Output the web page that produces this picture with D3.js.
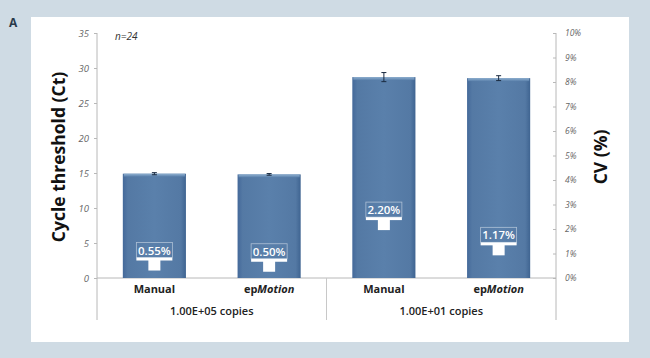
<!DOCTYPE html>
<html><head><meta charset="utf-8">
<script src="https://cdn.jsdelivr.net/npm/d3@7"></script>
<style>body{margin:0;background:#cfdbe4;}svg{display:block;}</style>
</head><body>
<script>
const categories = ["Manual", "epMotion", "Manual", "epMotion"];
const groups = ["1.00E+05 copies", "1.00E+01 copies"];
const ctValues = [14.9, 14.8, 28.7, 28.55];
const ctErrors = [0.15, 0.12, 0.65, 0.35];
const cvValues = [0.55, 0.50, 2.20, 1.17];
const cvLabels = ["0.55%", "0.50%", "2.20%", "1.17%"];
const leftTicks = [0, 5, 10, 15, 20, 25, 30, 35];
const rightTicks = [0,1,2,3,4,5,6,7,8,9,10];

const W = 650, H = 358;
const svg = d3.select("body").append("svg").attr("width", W).attr("height", H);
svg.append("rect").attr("width", W).attr("height", H).attr("fill", "#cfdbe4");
svg.append("rect").attr("x", 31).attr("y", 17).attr("width", 598).attr("height", 325).attr("fill", "#ffffff");
svg.append("text").attr("x", 9).attr("y", 27).text("A")
  .attr("font-family", "Open Sans, sans-serif").attr("font-weight", "bold").attr("font-size", 12).attr("fill", "#2a3a4a");

const x0 = 97, x1 = 556, yTop = 33, yBot = 278;
const x = d3.scaleBand().domain(d3.range(categories.length)).range([x0, x1]).paddingInner(0.45).paddingOuter(0.225);
const y = d3.scaleLinear().domain([0, 35]).range([yBot, yTop]);
const y2 = d3.scaleLinear().domain([0, 10]).range([yBot, yTop]);

const defs = svg.append("defs");
const grad = defs.append("linearGradient").attr("id", "barg").attr("x1", 0).attr("x2", 1).attr("y1", 0).attr("y2", 0);
grad.append("stop").attr("offset", "0%").attr("stop-color", "#44699a");
grad.append("stop").attr("offset", "8%").attr("stop-color", "#5479a4");
grad.append("stop").attr("offset", "50%").attr("stop-color", "#5a80ab");
grad.append("stop").attr("offset", "92%").attr("stop-color", "#5479a4");
grad.append("stop").attr("offset", "100%").attr("stop-color", "#3f6491");
const gradT = defs.append("linearGradient").attr("id", "topg").attr("x1", 0).attr("x2", 0).attr("y1", 0).attr("y2", 1);
gradT.append("stop").attr("offset", "0%").attr("stop-color", "#8fb0d0");
gradT.append("stop").attr("offset", "100%").attr("stop-color", "#5a80ab");

const tickFont = "Open Sans, sans-serif";
// left axis
const gl = svg.append("g").attr("transform", `translate(${x0},0)`)
  .call(d3.axisLeft(y).tickValues(leftTicks).tickSize(3).tickSizeOuter(0));
gl.select(".domain").attr("stroke", "#b8b8b8").attr("d", `M0,${yTop}V${yBot+42}`);
gl.selectAll(".tick line").attr("stroke", "#b8b8b8");
gl.selectAll(".tick text").attr("font-family", tickFont).attr("font-style", "italic").attr("font-size", 9.5).attr("fill", "#666").attr("x", -8);

// right axis
const gr = svg.append("g").attr("transform", `translate(${x1},0)`)
  .call(d3.axisRight(y2).tickValues(rightTicks).tickFormat(d => d + "%").tickSize(3).tickSizeOuter(0));
gr.select(".domain").attr("stroke", "#b8b8b8").attr("d", `M0,${yTop}V${yBot+42}`);
gr.selectAll(".tick line").attr("stroke", "#b8b8b8").attr("x1", -3).attr("x2", 0);
gr.selectAll(".tick text").attr("font-family", tickFont).attr("font-style", "italic").attr("font-size", 8.5).attr("fill", "#666").attr("x", 9);

// baseline
svg.append("line").attr("x1", x0).attr("x2", x1).attr("y1", yBot).attr("y2", yBot).attr("stroke", "#b8b8b8");
// group separator
const sep = (x(1) + x.bandwidth() + x(2)) / 2;
svg.append("line").attr("x1", sep).attr("x2", sep).attr("y1", yBot).attr("y2", yBot + 42).attr("stroke", "#c8c8c8");

// bars
const bars = svg.append("g");
categories.forEach((c, i) => {
  const bx = x(i), bw = x.bandwidth(), by = y(ctValues[i]);
  bars.append("rect").attr("x", bx).attr("y", by).attr("width", bw).attr("height", yBot - by).attr("fill", "url(#barg)");
  bars.append("rect").attr("x", bx + 1).attr("y", by).attr("width", bw - 2).attr("height", 3).attr("fill", "url(#topg)");
  // error bar
  const cx = bx + bw / 2;
  const e1 = y(ctValues[i] + ctErrors[i]), e2 = y(ctValues[i] - ctErrors[i]);
  bars.append("line").attr("x1", cx).attr("x2", cx).attr("y1", e1).attr("y2", e2).attr("stroke", "#1a2a40").attr("stroke-width", 1);
  bars.append("line").attr("x1", cx - 2.5).attr("x2", cx + 2.5).attr("y1", e1).attr("y2", e1).attr("stroke", "#1a2a40");
  bars.append("line").attr("x1", cx - 2.5).attr("x2", cx + 2.5).attr("y1", e2).attr("y2", e2).attr("stroke", "#1a2a40");
  // CV marker
  const my = y2(cvValues[i]);
  bars.append("rect").attr("x", cx - 6).attr("y", my - 6).attr("width", 12).attr("height", 12).attr("fill", "#fff");
  bars.append("rect").attr("x", cx - 18).attr("y", my - 7).attr("width", 36).attr("height", 3).attr("fill", "#fff");
  bars.append("rect").attr("x", cx - 18).attr("y", my - 22).attr("width", 36).attr("height", 15)
    .attr("fill", "none").attr("stroke", "#e8eef5").attr("stroke-width", 0.8).attr("stroke-opacity", 0.6);
  bars.append("text").attr("x", cx).attr("y", my - 10).attr("text-anchor", "middle")
    .attr("font-family", "Open Sans, sans-serif").attr("font-weight", "600").attr("font-size", 11.5).attr("fill", "#fff").text(cvLabels[i]);
  // category label
  const t = svg.append("text").attr("x", cx).attr("y", yBot + 15).attr("text-anchor", "middle")
    .attr("font-family", "Open Sans, sans-serif").attr("font-weight", "bold").attr("font-size", 11).attr("fill", "#222");
  if (c === "epMotion") { t.append("tspan").text("ep"); t.append("tspan").attr("font-style", "italic").text("Motion"); }
  else t.text(c);
});

// group labels
groups.forEach((g, k) => {
  const gx = (x(2 * k) + x(2 * k + 1) + x.bandwidth()) / 2;
  svg.append("text").attr("x", gx).attr("y", yBot + 37).attr("text-anchor", "middle")
    .attr("font-family", "Open Sans, sans-serif").attr("font-weight", "600").attr("font-size", 11).attr("fill", "#222").text(g);
});

svg.append("text").attr("x", 115).attr("y", 40).text("n=24")
  .attr("font-family", "Open Sans, sans-serif").attr("font-style", "italic").attr("font-size", 10).attr("fill", "#333");

// axis titles
svg.append("text").attr("transform", `translate(65,157) rotate(-90)`).attr("text-anchor", "middle")
  .attr("font-family", "Open Sans, sans-serif").attr("font-weight", "bold").attr("font-size", 17.5).attr("fill", "#111").text("Cycle threshold (Ct)");
svg.append("text").attr("transform", `translate(607,157) rotate(-90)`).attr("text-anchor", "middle")
  .attr("font-family", "Open Sans, sans-serif").attr("font-weight", "bold").attr("font-size", 17.5).attr("fill", "#111").text("CV (%)");
</script>
</body></html>
